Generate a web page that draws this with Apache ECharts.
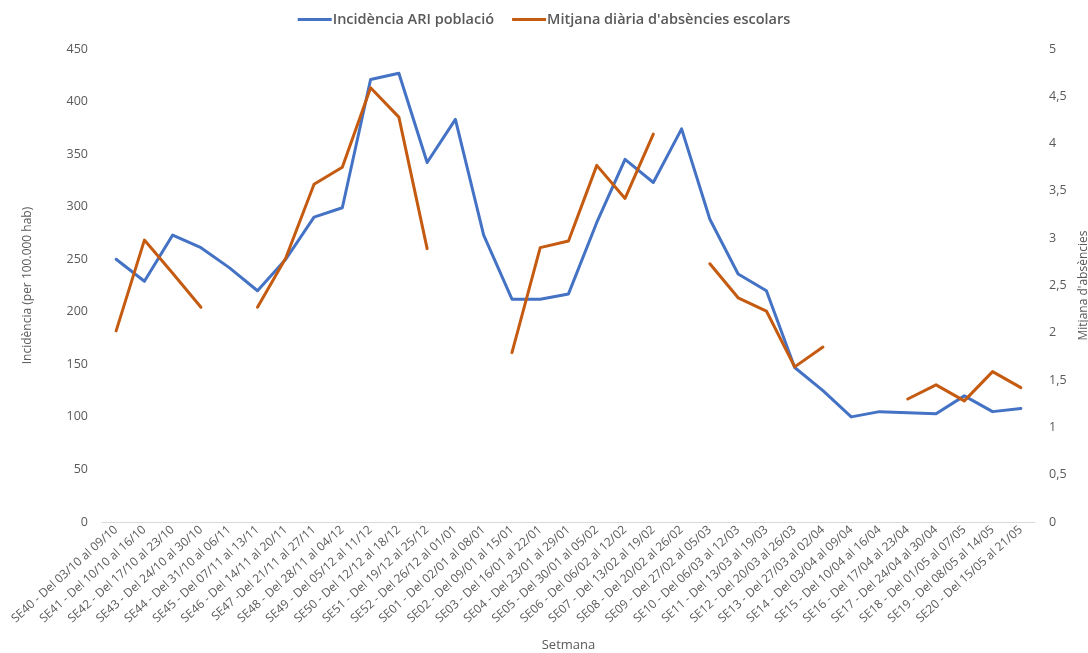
<!DOCTYPE html>
<html>
<head>
<meta charset="utf-8">
<script src="https://cdn.jsdelivr.net/npm/echarts@6/dist/echarts.min.js"></script>
<style>
  html, body { margin: 0; padding: 0; background: #ffffff; }
  #chart { width: 1088px; height: 653px; }
</style>
</head>
<body>
<div id="chart"></div>
<script>
// Weekly categories (school year)
const weeks = [
  'SE40 - Del 03/10 al 09/10', 'SE41 - Del 10/10 al 16/10', 'SE42 - Del 17/10 al 23/10',
  'SE43 - Del 24/10 al 30/10', 'SE44 - Del 31/10 al 06/11', 'SE45 - Del 07/11 al 13/11',
  'SE46 - Del 14/11 al 20/11', 'SE47 -Del 21/11 al 27/11', 'SE48 - Del 28/11 al 04/12',
  'SE49 - Del 05/12 al 11/12', 'SE50 - Del 12/12 al 18/12', 'SE51 - Del 19/12 al 25/12',
  'SE52 - Del 26/12 al 01/01', 'SE01 - Del 02/01 al 08/01', 'SE02 - Del 09/01 al 15/01',
  'SE03 - Del 16/01 al 22/01', 'SE04 - Del 23/01 al 29/01', 'SE05 - Del 30/01 al 05/02',
  'SE06 - Del 06/02 al 12/02', 'SE07 - Del 13/02 al 19/02', 'SE08 - Del 20/02 al 26/02',
  'SE09 - Del 27/02 al 05/03', 'SE10 - Del 06/03 al 12/03', 'SE11 - Del 13/03 al 19/03',
  'SE12 - Del 20/03 al 26/03', 'SE13 - Del 27/03 al 02/04', 'SE14 - Del 03/04 al 09/04',
  'SE15 - Del 10/04 al 16/04', 'SE16 - Del 17/04 al 23/04', 'SE17 - Del 24/04 al 30/04',
  'SE18 - Del 01/05 al 07/05', 'SE19 - Del 08/05 al 14/05', 'SE20 - Del 15/05 al 21/05'
];

// ARI incidence in the population (per 100.000 inhabitants)
const incidenciaARI = [
  250, 229, 273, 261, 242, 220, 250, 290, 299, 421, 427, 342, 383,
  273, 212, 212, 217, 285, 345, 323, 374, 288, 236, 220, 147, 125,
  100, 105, 104, 103, 120, 105, 108
];

// Daily mean of school absences (null = no school week)
const absencies = [
  2.02, 2.98, 2.63, 2.27, null, 2.27, 2.79, 3.57, 3.75, 4.59, 4.28, 2.89, null,
  null, 1.79, 2.90, 2.97, 3.77, 3.42, 4.10, null, 2.73, 2.37, 2.23, 1.64, 1.85,
  null, null, 1.30, 1.45, 1.28, 1.59, 1.42
];

const leftTicks = { min: 0, max: 450, interval: 50 };
const rightTicks = { min: 0, max: 5, interval: 0.5 };

const FONT = 'Open Sans';
const GREY = '#595959';

const chart = echarts.init(document.getElementById('chart'), null, { renderer: 'canvas' });

chart.setOption({
  backgroundColor: '#ffffff',
  animation: false,
  textStyle: { fontFamily: FONT },
  legend: {
    top: 7,
    left: 'center',
    itemWidth: 34,
    itemHeight: 3,
    itemGap: 18,
    icon: 'rect',
    textStyle: { color: GREY, fontSize: 14.5, fontWeight: 600, fontFamily: FONT, padding: [0, 0, 0, -4] },
    data: ['Incidència ARI població', "Mitjana diària d'absències escolars"]
  },
  grid: { left: 102, right: 53, top: 49, bottom: 131, containLabel: false, outerBoundsMode: 'none' },
  xAxis: {
    type: 'category',
    data: weeks,
    boundaryGap: true,
    name: 'Setmana',
    nameLocation: 'middle',
    nameGap: 117,
    nameTextStyle: { color: GREY, fontSize: 13, fontFamily: FONT },
    axisLine: { lineStyle: { color: '#d9d9d9', width: 1 } },
    axisTick: { show: false },
    axisLabel: { rotate: 42, interval: 0, color: GREY, fontSize: 12, fontFamily: FONT, margin: 6 }
  },
  yAxis: [
    {
      type: 'value',
      min: leftTicks.min, max: leftTicks.max, interval: leftTicks.interval,
      name: 'Incidència (per 100.000 hab)',
      nameLocation: 'middle',
      nameGap: 68,
      nameTextStyle: { color: GREY, fontSize: 12, fontFamily: FONT },
      axisLine: { show: false },
      axisTick: { show: false },
      splitLine: { show: false },
      axisLabel: { color: GREY, fontSize: 12.5, fontFamily: FONT, margin: 14 }
    },
    {
      type: 'value',
      min: rightTicks.min, max: rightTicks.max, interval: rightTicks.interval,
      name: "Mitjana d'absències",
      nameLocation: 'middle',
      nameGap: 40,
      nameRotate: 90,
      nameTextStyle: { color: GREY, fontSize: 12, fontFamily: FONT },
      axisLine: { show: false },
      axisTick: { show: false },
      splitLine: { show: false },
      axisLabel: {
        color: GREY, fontSize: 12.5, fontFamily: FONT, margin: 14,
        formatter: v => String(v).replace('.', ',')
      }
    }
  ],
  series: [
    {
      name: 'Incidència ARI població',
      type: 'line',
      yAxisIndex: 0,
      data: incidenciaARI,
      symbol: 'none',
      lineStyle: { color: '#4472C4', width: 3, cap: 'round', join: 'round' },
      itemStyle: { color: '#4472C4' },
      z: 2
    },
    {
      name: "Mitjana diària d'absències escolars",
      type: 'line',
      yAxisIndex: 1,
      data: absencies,
      connectNulls: false,
      symbol: 'none',
      lineStyle: { color: '#C55A11', width: 3, cap: 'round', join: 'round' },
      itemStyle: { color: '#C55A11' },
      z: 3
    }
  ]
});
</script>
</body>
</html>
